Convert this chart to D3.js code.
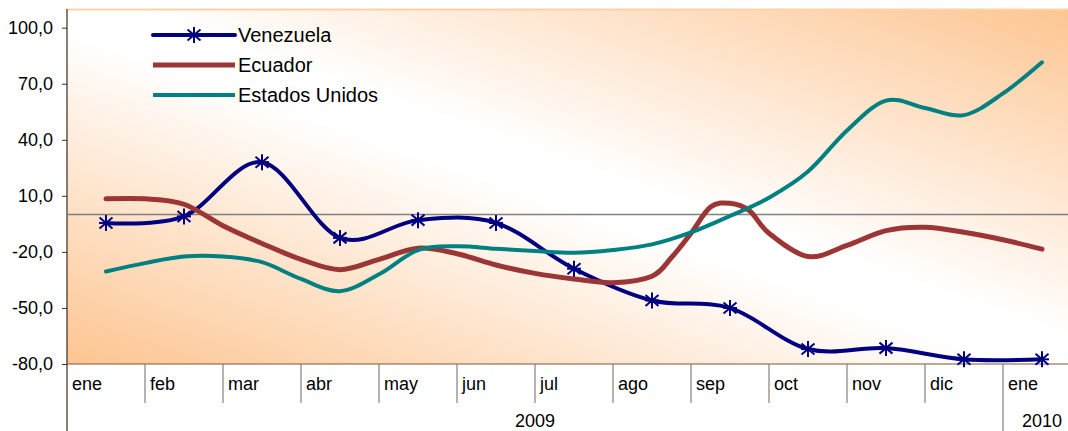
<!DOCTYPE html>
<html>
<head>
<meta charset="utf-8">
<script src="https://cdn.jsdelivr.net/npm/d3@7"></script>
<style>
  body { margin: 0; background: #fff; }
  svg { display: block; font-family: "Liberation Sans", Arial, sans-serif; }
</style>
</head>
<body>
<div id="grafico"></div>
<script>
// Datos (variación %)
const meses = ["ene", "feb", "mar", "abr", "may", "jun", "jul", "ago", "sep", "oct", "nov", "dic", "ene"]
const anios = ["2009", "2010"]
const mesesPorAnio = [12, 1]
const yTicks = [-80, -50, -20, 10, 40, 70, 100]

// Venezuela: un dato por mes (mitad de cada mes)
const venezuela = [-4.5, -1, 28, -12.5, -3, -4.5, -29, -46, -50, -72, -71.5, -77.5, -77.5]

// Ecuador: posición en meses desde ene 2009 y valor
const ecuadorPos = [0.5, 1, 1.5, 2, 2.5, 3, 3.5, 4, 4.5, 5, 5.5, 6, 6.5, 7, 7.5, 7.75, 8, 8.25, 8.5, 8.75, 9, 9.5, 10, 10.5, 11, 11.5, 12, 12.5]
const ecuador = [8.4, 8.4, 5.5, -6, -15.5, -24, -29.5, -24, -18, -21, -27, -31.5, -34.5, -36.5, -33, -23, -10, 4, 6, 2, -10, -22.5, -16.5, -8.6, -6.8, -9.5, -13.5, -18.5]

// Estados Unidos: cada medio mes
const eeuuPos = [0.5, 1, 1.5, 2, 2.5, 3, 3.5, 4, 4.5, 5, 5.5, 6, 6.5, 7, 7.5, 8, 8.5, 9, 9.5, 10, 10.5, 11, 11.5, 12, 12.5]
const eeuu = [-30.5, -26, -22.5, -22.5, -25.5, -34.5, -41, -32, -19, -17, -18.3, -19.5, -20.5, -19, -16, -9.6, -0.8, 9, 23, 45, 61, 57, 53.2, 64.8, 81.5]

const series = [
  { name: "Venezuela", color: "#000080", width: 4, star: true,
    values: venezuela.map((v, i) => [i + 0.5, v]) },
  { name: "Ecuador", color: "#9c3535", width: 5, star: false,
    values: ecuador.map((v, i) => [ecuadorPos[i], v]) },
  { name: "Estados Unidos", color: "#008080", width: 4, star: false,
    values: eeuu.map((v, i) => [eeuuPos[i], v]) }
]

let width = 1068,
    height = 431,
    mLeft = 67,
    mTop = 9,
    mBottom = 364,
    step = 78

let svg = d3.select("#grafico").append("svg")
    .attr("width", width)
    .attr("height", height)

let x = d3.scaleLinear().domain([0, meses.length]).range([mLeft, mLeft + step * meses.length])
let y = d3.scaleLinear().domain([-80, 110]).range([mBottom, mTop])

// Fondo degradado
let grad = svg.append("defs").append("linearGradient")
    .attr("id", "fondo")
    .attr("x1", 0).attr("y1", 1).attr("x2", 1).attr("y2", 0)
grad.append("stop").attr("offset", 0).attr("stop-color", "#fdc591")
grad.append("stop").attr("offset", 0.47).attr("stop-color", "#ffffff")
grad.append("stop").attr("offset", 0.53).attr("stop-color", "#ffffff")
grad.append("stop").attr("offset", 1).attr("stop-color", "#fdc591")

svg.append("rect")
    .attr("x", mLeft).attr("y", mTop)
    .attr("width", x.range()[1] - mLeft).attr("height", mBottom - mTop)
    .attr("fill", "url(#fondo)")

svg.append("line")
    .attr("x1", mLeft).attr("x2", width)
    .attr("y1", mTop + 0.5).attr("y2", mTop + 0.5)
    .attr("stroke", "#fcd3a6").attr("stroke-width", 2)

// Eje Y
let axisY = d3.axisLeft(y).tickValues(yTicks).tickSize(5).tickPadding(9)
    .tickFormat(d => d.toFixed(1).replace(".", ","))
let gY = svg.append("g")
    .attr("transform", `translate(${mLeft},0)`)
    .call(axisY)
gY.attr("font-family", null)
gY.select(".domain").remove()
gY.selectAll(".tick line").attr("stroke", "#333")
gY.selectAll(".tick text").attr("font-size", "18px").attr("fill", "#000")

svg.append("line")
    .attr("x1", mLeft).attr("x2", mLeft)
    .attr("y1", mTop).attr("y2", height)
    .attr("stroke", "#3a2a1a").attr("stroke-width", 1.2)

// Línea de cero
svg.append("line")
    .attr("x1", mLeft).attr("x2", width)
    .attr("y1", y(0)).attr("y2", y(0))
    .attr("stroke", "#808080").attr("stroke-width", 1.5)

// Eje X: meses
svg.append("line")
    .attr("x1", mLeft).attr("x2", width)
    .attr("y1", mBottom).attr("y2", mBottom)
    .attr("stroke", "#7a5838").attr("stroke-width", 1.2)

svg.append("g").selectAll(".sep").data(d3.range(1, meses.length))
  .enter().append("line")
    .attr("x1", d => x(d)).attr("x2", d => x(d))
    .attr("y1", mBottom)
    .attr("y2", d => d === mesesPorAnio[0] ? height : mBottom + 39)
    .attr("stroke", "#808080").attr("stroke-width", 1.2)

svg.append("g").selectAll(".mes").data(meses)
  .enter().append("text")
    .attr("x", (d, i) => x(i) + 5)
    .attr("y", mBottom + 26)
    .attr("font-size", "18px")
    .text(d => d)

// Años
let inicio = 0
anios.forEach(function (a, k) {
  let fin = inicio + mesesPorAnio[k]
  svg.append("text")
    .attr("x", (x(inicio) + x(fin)) / 2)
    .attr("y", height - 4)
    .attr("text-anchor", "middle")
    .attr("font-size", "18px")
    .text(a)
  inicio = fin
})

// Series
let line = d3.line()
    .x(d => x(d[0]))
    .y(d => y(d[1]))
    .curve(d3.curveCatmullRom.alpha(0))

let plot = svg.append("g")

plot.selectAll(".serie").data(series)
  .enter().append("path")
    .attr("class", "serie")
    .attr("fill", "none")
    .attr("stroke", d => d.color)
    .attr("stroke-width", d => d.width)
    .attr("stroke-linejoin", "round")
    .attr("stroke-linecap", "round")
    .attr("d", d => line(d.values))

function star(g, cx, cy, color) {
  let s = g.append("g").attr("transform", `translate(${cx},${cy})`)
    .attr("stroke", color).attr("stroke-width", 2)
  s.append("line").attr("x1", 0).attr("x2", 0).attr("y1", -8).attr("y2", 8)
  s.append("line").attr("x1", -6.5).attr("x2", 6.5).attr("y1", -5.5).attr("y2", 5.5)
  s.append("line").attr("x1", -6.5).attr("x2", 6.5).attr("y1", 5.5).attr("y2", -5.5)
  s.append("line").attr("x1", -7).attr("x2", 7).attr("y1", 0).attr("y2", 0)
}

series.filter(d => d.star).forEach(function (s) {
  s.values.forEach(d => star(plot, x(d[0]), y(d[1]), s.color))
})

// Leyenda
let legend = svg.append("g").attr("transform", "translate(153,35)")
series.forEach(function (s, i) {
  let g = legend.append("g").attr("transform", `translate(0,${i * 30})`)
  g.append("line")
    .attr("x1", 0).attr("x2", 82)
    .attr("stroke", s.color)
    .attr("stroke-width", s.width)
    .attr("stroke-linecap", s.star ? "round" : "butt")
  if (s.star) star(g, 41, 0, s.color)
  g.append("text")
    .attr("x", 85)
    .attr("dy", "0.36em")
    .attr("font-size", "20px")
    .text(s.name)
})
</script>
</body>
</html>
